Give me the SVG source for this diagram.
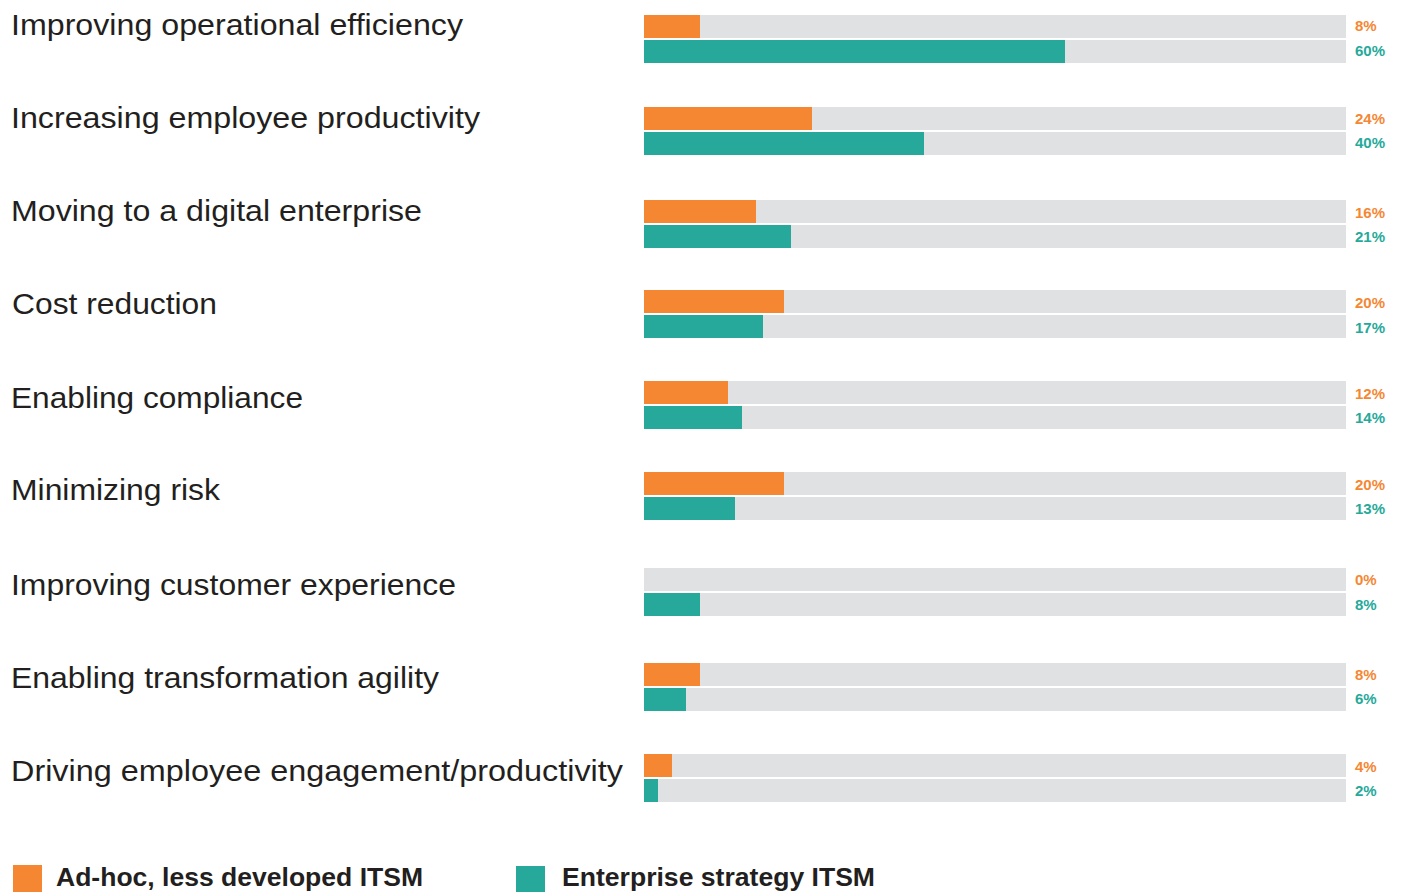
<svg xmlns="http://www.w3.org/2000/svg" width="1402" height="892" viewBox="0 0 1402 892">
<style>
.lbl{font-family:"Liberation Sans",Arial,sans-serif;font-size:29px;fill:#231f20}
.trk{fill:#e0e1e3}
.o{fill:#f58733}
.t{fill:#26a99a}
.po{font-family:"Liberation Sans",Arial,sans-serif;font-size:15px;font-weight:bold;fill:#f58733}
.pt{font-family:"Liberation Sans",Arial,sans-serif;font-size:15px;font-weight:bold;fill:#26a99a}
.leg{font-family:"Liberation Sans",Arial,sans-serif;font-size:26px;font-weight:bold;fill:#231f20}
</style>
<rect width="1402" height="892" fill="#ffffff"/>
<g id="row1">
<text class="lbl" x="11" y="35" textLength="452" lengthAdjust="spacingAndGlyphs">Improving operational efficiency</text>
<rect class="trk" x="644" y="15" width="702" height="23"/><rect class="o" x="644" y="15" width="56" height="23"/>
<rect class="trk" x="644" y="40" width="702" height="23"/><rect class="t" x="644" y="40" width="421" height="23"/>
<text class="po" x="1355" y="31">8%</text><text class="pt" x="1355" y="56">60%</text>
</g>
<g id="row2">
<text class="lbl" x="11" y="128" textLength="469" lengthAdjust="spacingAndGlyphs">Increasing employee productivity</text>
<rect class="trk" x="644" y="107" width="702" height="23"/><rect class="o" x="644" y="107" width="168" height="23"/>
<rect class="trk" x="644" y="132" width="702" height="23"/><rect class="t" x="644" y="132" width="280" height="23"/>
<text class="po" x="1355" y="124">24%</text><text class="pt" x="1355" y="148">40%</text>
</g>
<g id="row3">
<text class="lbl" x="11" y="221" textLength="411" lengthAdjust="spacingAndGlyphs">Moving to a digital enterprise</text>
<rect class="trk" x="644" y="200" width="702" height="23"/><rect class="o" x="644" y="200" width="112" height="23"/>
<rect class="trk" x="644" y="225" width="702" height="23"/><rect class="t" x="644" y="225" width="147" height="23"/>
<text class="po" x="1355" y="218">16%</text><text class="pt" x="1355" y="242">21%</text>
</g>
<g id="row4">
<text class="lbl" x="12" y="314" textLength="205" lengthAdjust="spacingAndGlyphs">Cost reduction</text>
<rect class="trk" x="644" y="290" width="702" height="23"/><rect class="o" x="644" y="290" width="140" height="23"/>
<rect class="trk" x="644" y="315" width="702" height="23"/><rect class="t" x="644" y="315" width="119" height="23"/>
<text class="po" x="1355" y="308">20%</text><text class="pt" x="1355" y="333">17%</text>
</g>
<g id="row5">
<text class="lbl" x="11" y="408" textLength="292" lengthAdjust="spacingAndGlyphs">Enabling compliance</text>
<rect class="trk" x="644" y="381" width="702" height="23"/><rect class="o" x="644" y="381" width="84" height="23"/>
<rect class="trk" x="644" y="406" width="702" height="23"/><rect class="t" x="644" y="406" width="98" height="23"/>
<text class="po" x="1355" y="399">12%</text><text class="pt" x="1355" y="423">14%</text>
</g>
<g id="row6">
<text class="lbl" x="11" y="500" textLength="209" lengthAdjust="spacingAndGlyphs">Minimizing risk</text>
<rect class="trk" x="644" y="472" width="702" height="23"/><rect class="o" x="644" y="472" width="140" height="23"/>
<rect class="trk" x="644" y="497" width="702" height="23"/><rect class="t" x="644" y="497" width="91" height="23"/>
<text class="po" x="1355" y="490">20%</text><text class="pt" x="1355" y="514">13%</text>
</g>
<g id="row7">
<text class="lbl" x="11" y="595" textLength="445" lengthAdjust="spacingAndGlyphs">Improving customer experience</text>
<rect class="trk" x="644" y="568" width="702" height="23"/>
<rect class="trk" x="644" y="593" width="702" height="23"/><rect class="t" x="644" y="593" width="56" height="23"/>
<text class="po" x="1355" y="585">0%</text><text class="pt" x="1355" y="610">8%</text>
</g>
<g id="row8">
<text class="lbl" x="11" y="688" textLength="428" lengthAdjust="spacingAndGlyphs">Enabling transformation agility</text>
<rect class="trk" x="644" y="663" width="702" height="23"/><rect class="o" x="644" y="663" width="56" height="23"/>
<rect class="trk" x="644" y="688" width="702" height="23"/><rect class="t" x="644" y="688" width="42" height="23"/>
<text class="po" x="1355" y="680">8%</text><text class="pt" x="1355" y="704">6%</text>
</g>
<g id="row9">
<text class="lbl" x="11" y="781" textLength="612" lengthAdjust="spacingAndGlyphs">Driving employee engagement/productivity</text>
<rect class="trk" x="644" y="754" width="702" height="23"/><rect class="o" x="644" y="754" width="28" height="23"/>
<rect class="trk" x="644" y="779" width="702" height="23"/><rect class="t" x="644" y="779" width="14" height="23"/>
<text class="po" x="1355" y="772">4%</text><text class="pt" x="1355" y="796">2%</text>
</g>
<g id="legend">
<rect class="o" x="13" y="865" width="29" height="27"/>
<text class="leg" x="56" y="886" textLength="367" lengthAdjust="spacingAndGlyphs">Ad-hoc, less developed ITSM</text>
<rect class="t" x="516" y="866" width="29" height="26"/>
<text class="leg" x="562" y="886" textLength="313" lengthAdjust="spacingAndGlyphs">Enterprise strategy ITSM</text>
</g>
<g id="connectors"></g>
</svg>
